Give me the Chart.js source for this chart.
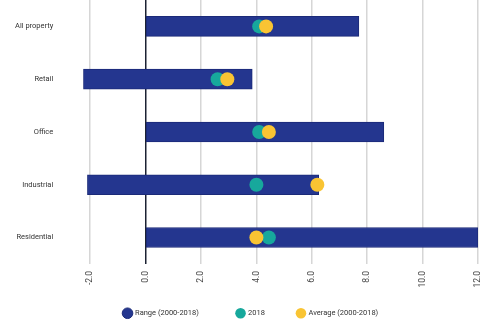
<!DOCTYPE html>
<html>
<head>
<meta charset="utf-8">
<script src="https://cdn.jsdelivr.net/npm/chart.js@4/dist/chart.umd.min.js"></script>
<style>
html,body{margin:0;padding:0;background:#fff;}
#wrap{width:500px;height:332px;position:relative;}
</style>
</head>
<body>
<div id="wrap"><canvas id="c"></canvas></div>
<script>
const categories = ["All property", "Retail", "Office", "Industrial", "Residential"];
const rangeLow  = [0, -2.25, 0, -2.1, 0];
const rangeHigh = [7.7, 3.85, 8.6, 6.25, 12];
const value2018 = [4.1, 2.6, 4.1, 4.0, 4.45];
const average   = [4.35, 2.95, 4.45, 6.2, 4.0];
const xTicks = [-2, 0, 2, 4, 6, 8, 10, 12];

const navy = "#24368f", teal = "#17a89c", yellow = "#f9c433";

const legendShift = {
  id: "legendShift",
  afterLayout(chart) {
    if (chart.legend) { chart.legend.left += 6; chart.legend.right += 6; }
  }
};

new Chart(document.getElementById("c"), {
  type: "bar",
  plugins: [legendShift],
  data: {
    labels: categories,
    datasets: [
      {
        label: "Range (2000-2018)",
        data: rangeLow.map((v, i) => [v, rangeHigh[i]]),
        backgroundColor: navy,
        borderColor: "#1b2a78",
        borderWidth: 1,
        borderSkipped: false,
        barThickness: 20,
        order: 3
      },
      {
        type: "line",
        label: "2018",
        data: value2018,
        showLine: false,
        pointRadius: 7,
        pointHoverRadius: 7,
        pointBackgroundColor: teal,
        pointBorderWidth: 0,
        backgroundColor: teal,
        borderColor: teal,
        order: 2
      },
      {
        type: "line",
        label: "Average (2000-2018)",
        data: average,
        showLine: false,
        pointRadius: 7,
        pointHoverRadius: 7,
        pointBackgroundColor: yellow,
        pointBorderWidth: 0,
        backgroundColor: yellow,
        borderColor: yellow,
        order: 1
      }
    ]
  },
  options: {
    indexAxis: "y",
    responsive: true,
    maintainAspectRatio: false,
    animation: false,
    layout: { autoPadding: false, padding: { left: 12, right: 22, top: 0, bottom: 5 } },
    scales: {
      x: {
        type: "linear",
        min: -2.25,
        max: 12,
        afterBuildTicks: (axis) => { axis.ticks = xTicks.map(v => ({ value: v })); },
        afterFit: (scale) => { scale.height += 5; },
        grid: {
          drawTicks: false,
          color: (ctx) => (ctx.tick && ctx.tick.value === 0) ? "#1c2233" : "#d6d6d6",
          lineWidth: 1.5
        },
        border: { display: false },
        ticks: {
          minRotation: 90,
          maxRotation: 90,
          padding: 7,
          color: "#444",
          font: { family: "Roboto", size: 8.5 },
          callback: (v) => Number(v).toFixed(1)
        }
      },
      y: {
        afterFit: (scale) => { scale.paddingTop = 0; scale.paddingBottom = 0; },
        grid: { display: false, drawTicks: true, tickLength: 27 },
        border: { display: false },
        ticks: {
          padding: 3,
          color: "#333",
          font: { family: "Roboto", size: 7.5 }
        }
      }
    },
    plugins: {
      tooltip: { enabled: false },
      legend: {
        position: "bottom",
        labels: {
          usePointStyle: true,
          pointStyle: "circle",
          boxWidth: 9,
          boxHeight: 9,
          padding: 10,
          color: "#333",
          font: { family: "Roboto", size: 7.5 },
          sort: (a, b) => a.datasetIndex - b.datasetIndex,
          generateLabels: (chart) => {
            const items = Chart.defaults.plugins.legend.labels.generateLabels(chart);
            items.forEach((it) => {
              if (it.datasetIndex === 0) it.text = it.text + "\u00A0".repeat(15);
              else if (it.datasetIndex === 1) it.text = it.text + "\u00A0".repeat(12);
            });
            return items;
          }
        }
      }
    }
  }
});
</script>
</body>
</html>
